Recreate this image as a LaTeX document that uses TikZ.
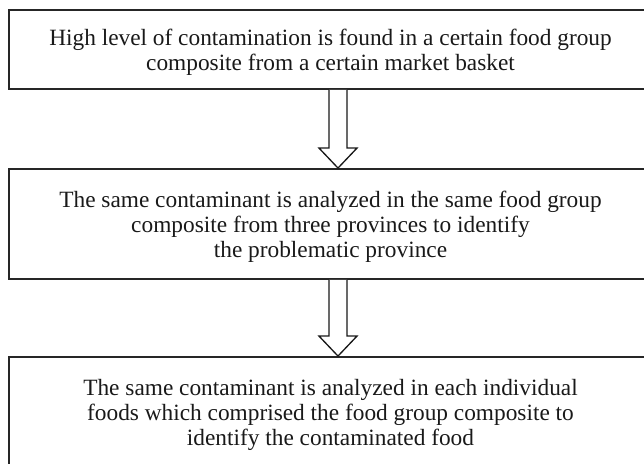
\documentclass[tikz,border=0pt]{standalone}
\usepackage{fontspec}
\setmainfont{Liberation Serif}
\usetikzlibrary{calc}
% a tall invisible strut that sets the first line a little lower in its box
\newcommand{\firstlinestrut}{\rule{0pt}{16.5pt}}
\begin{document}
\begin{tikzpicture}[x=0.75pt,y=-0.75pt,
  stagebox/.style={draw=black!85, line width=1.4pt, inner sep=0pt,
    minimum width=482.25pt, align=center,
    font=\fontsize{17.5}{18.5}\selectfont, text=black!90},
  flowarrow/.style={draw=black!90, line width=1pt, fill=white, line join=miter}]
\useasboundingbox (0,0) rectangle (644,464);
% three stages, each a wide framed box
\node[stagebox, minimum height=59.25pt] (b1) at (330.5,49.5)
  {\firstlinestrut High level of contamination is found in a certain food group\\
   composite from a certain market basket};
\node[stagebox, minimum height=82.5pt] (b2) at (330.5,224)
  {\firstlinestrut The same contaminant is analyzed in the same food group\\
   composite from three provinces to identify\\
   the problematic province};
\node[stagebox, minimum height=82.5pt] (b3) at (330.5,412)
  {\firstlinestrut The same contaminant is analyzed in each individual\\
   foods which comprised the food group composite to\\
   identify the contaminated food};
% hollow block arrows between consecutive stages
\foreach \u/\v in {b1/b2, b2/b3}{
  \path ($(\u.south)+(7.5,0)$) coordinate (top)
        ($(\v.north)+(7.5,0)$) coordinate (tip);
  \draw[flowarrow] ($(top)+(-9,0)$) -- ($(tip)+(-9,-20)$) -- ($(tip)+(-19,-20)$)
    -- (tip) -- ($(tip)+(19,-20)$) -- ($(tip)+(9,-20)$) -- ($(top)+(9,0)$);
}
\end{tikzpicture}
\end{document}
